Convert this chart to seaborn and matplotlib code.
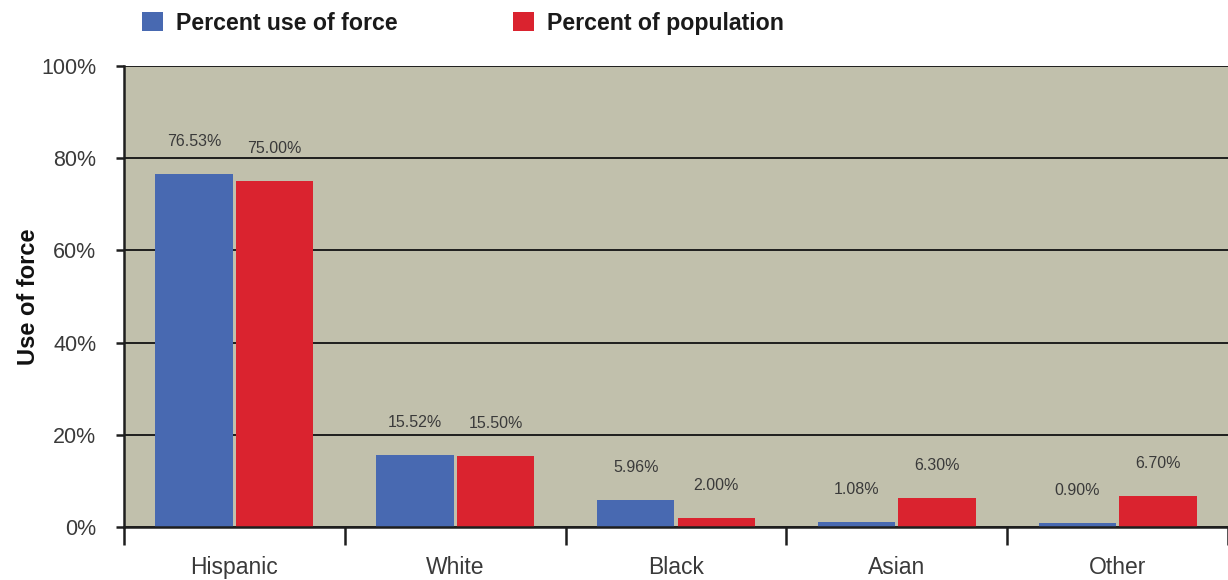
import matplotlib
matplotlib.use("Agg")
import matplotlib.pyplot as plt
import matplotlib.ticker as mticker
from matplotlib.patches import Patch
import seaborn as sns
import pandas as pd
import numpy as np

categories = ["Hispanic", "White", "Black", "Asian", "Other"]
series_names = ["Percent use of force", "Percent of population"]
use_of_force = [76.53, 15.52, 5.96, 1.08, 0.90]
population = [75.00, 15.50, 2.00, 6.30, 6.70]
y_ticks = [0, 20, 40, 60, 80, 100]

BLUE = "#4869B1"
RED = "#DA232F"
BG = "#C1C0AC"
TXT = "#3a3a3a"

sns.set_theme(style="white")
FONT = ["Liberation Sans Narrow", "Liberation Sans", "DejaVu Sans"]
plt.rcParams["font.family"] = FONT

df = pd.DataFrame({
    "category": categories * 2,
    "series": [series_names[0]] * len(categories) + [series_names[1]] * len(categories),
    "value": use_of_force + population,
})

fig = plt.figure(figsize=(12.28, 5.8), dpi=100)
ax = fig.add_axes([124 / 1228, 53 / 580, 1 - 124 / 1228, 461 / 580])
ax.set_facecolor(BG)

sns.barplot(data=df, x="category", y="value", hue="series", order=categories,
            hue_order=series_names, palette=[BLUE, RED], width=0.73, gap=0.04,
            saturation=1, ax=ax, legend=False, zorder=3, edgecolor="none", linewidth=0)

for cont in ax.containers:
    texts = ax.bar_label(cont, labels=[f"{v:.2f}%" for v in cont.datavalues], padding=18,
                         fontsize=11.5, color=TXT)
    for t in texts:
        t.set_zorder(6)

ax.set_ylim(0, 100)
ax.set_xlim(-0.5, len(categories) - 0.5)
ax.set_yticks(y_ticks)
ax.yaxis.set_major_formatter(mticker.FuncFormatter(lambda v, p: f"{v:.0f}%"))
ax.grid(axis="y", color="#1e1e1e", linewidth=1.4, zorder=1)
ax.set_axisbelow(True)

ax.set_xticks(np.arange(-0.5, len(categories), 1.0))
ax.set_xticklabels([])
ax.set_xticks(np.arange(len(categories)), minor=True)
ax.set_xticklabels(categories, minor=True)
ax.tick_params(axis="x", which="major", direction="out", length=13, width=1.8,
               color="#1e1e1e", bottom=True)
ax.tick_params(axis="x", which="minor", length=0, pad=21, labelsize=16.5,
               labelcolor=TXT, bottom=True)
ax.tick_params(axis="y", direction="out", length=6, width=1.8, color="#1e1e1e",
               labelsize=15.5, labelcolor=TXT, left=True, pad=14)

for s in ["top", "right"]:
    ax.spines[s].set_visible(False)
for s in ["left", "bottom"]:
    ax.spines[s].set_color("#1e1e1e")
    ax.spines[s].set_linewidth(1.8)
    ax.spines[s].set_zorder(4)

ax.set_xlabel("")
ax.set_ylabel("Use of force", fontsize=17, fontweight="bold", color="#111111", labelpad=1)

handles = [Patch(facecolor=BLUE, edgecolor="none"), Patch(facecolor=RED, edgecolor="none")]
leg = fig.legend(handles, series_names, loc="upper left", bbox_to_anchor=(121 / 1228, 1.016),
                 ncol=2, frameon=False, handlelength=0.9, handleheight=0.9,
                 handletextpad=0.55, columnspacing=5.0,
                 prop={"family": FONT, "weight": "bold", "size": 16.7})
for t in leg.get_texts():
    t.set_color("#1a1a1a")

fig.savefig("out.png", dpi=100)
